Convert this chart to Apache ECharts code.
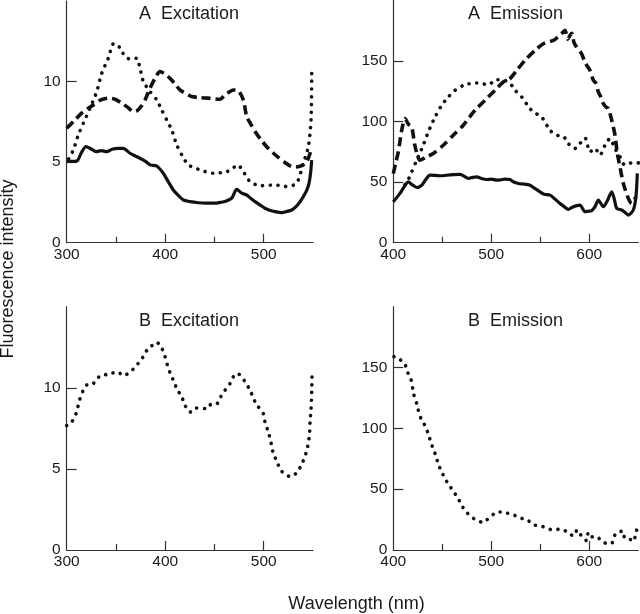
<!DOCTYPE html>
<html>
<head>
<meta charset="utf-8">
<script src="https://cdn.jsdelivr.net/npm/echarts@6/dist/echarts.min.js"></script>
<style>html,body{margin:0;padding:0;background:#fff}#c{width:640px;height:614px}</style>
</head>
<body>
<div id="c"></div>
<script>
// ---- tick labels ----
const excXLabels = [300, 400, 500];
const emXLabels = [400, 500, 600];
const excXMinor = [350, 450];
const emXMinor = [450, 550];
const excYLabels = [0, 5, 10];
const emYLabels = [0, 50, 100, 150];
const panelTitles = ['A  Excitation', 'A  Emission', 'B  Excitation', 'B  Emission'];

// ---- A Excitation ----
const aExcSolid = [[300,5.07],[306,5.05],[311,5.1],[315,5.6],[319.6,5.96],[324,5.85],[330,5.65],[335,5.72],[340.6,5.65],[346,5.8],[352.4,5.86],[357.5,5.86],[364.3,5.55],[369,5.4],[374.4,5.24],[380,5.05],[384.6,4.83],[391.4,4.76],[398,4.31],[403,3.8],[408.2,3.27],[413,2.95],[418.4,2.65],[425.2,2.55],[433.6,2.48],[441,2.45],[450.6,2.45],[456,2.5],[460.7,2.55],[467.5,2.76],[472.6,3.31],[477.7,3.07],[482.7,2.96],[487,2.75],[491.2,2.55],[496,2.35],[501.3,2.14],[506,2.02],[511.5,1.93],[518.3,1.87],[523,1.93],[528.4,2.03],[533,2.25],[536.9,2.55],[540.5,2.9],[543.7,3.27],[546,3.7],[547.5,4.3],[548.7,5.13]];
const aExcDash = [[300,7.1],[306.8,7.52],[315.2,8.04],[321,8.3],[327,8.55],[334,8.85],[342.2,8.97],[349,8.9],[355.8,8.66],[362,8.4],[367.6,8.14],[371.7,8.2],[376,8.5],[379.5,8.86],[384.6,9.59],[389.6,10.2],[394.7,10.62],[399,10.5],[404.9,10.2],[410,9.85],[415,9.48],[423.5,9.17],[426.9,9.07],[435,9.0],[443.8,8.97],[450,8.92],[455.6,8.9],[460.7,9.17],[465,9.35],[469.1,9.48],[474.2,9.43],[479.3,8.86],[482.7,7.83],[487,7.35],[491.2,6.9],[497,6.4],[503,5.96],[509,5.6],[514.8,5.3],[521,5.0],[528.4,4.72],[533,4.7],[538.6,4.78],[543.7,5.03],[547,5.55],[548.5,5.95]];
const aExcDot = [[302,5.2],[306.8,5.76],[311.8,6.69],[316.9,7.41],[323.7,8.35],[330.5,9.38],[335.5,10.5],[342.2,11.45],[348,12.38],[354.1,12.1],[359.2,11.55],[365,11.39],[371,11.45],[374.4,10.83],[377.8,10.0],[384.6,9.38],[391.4,8.86],[396.4,8.24],[401.5,7.62],[406.6,7.0],[411.7,6.07],[416.8,5.45],[423.5,4.83],[435.3,4.52],[448.8,4.31],[462.4,4.41],[468,4.6],[473.6,4.83],[479.3,4.41],[486.1,3.79],[496.2,3.54],[511.5,3.58],[525,3.48],[531,3.6],[535.1,3.89],[540.2,4.93],[545.3,5.96],[548,7.62],[548.7,10.52]];

// ---- A Emission ----
const aEmSolid = [[400,33.8],[406.8,40.7],[411,46],[415.3,50.3],[419,48],[423.9,45.6],[429,47.5],[433,52],[437.4,55.8],[447.6,55.3],[458,56],[468,56.4],[472,55],[476.5,53.1],[481,54],[485,54.4],[490,53],[495.3,52.2],[500,52.5],[505.5,51.6],[510,52],[514,52.5],[519,52.2],[522.4,50.3],[527.6,48.9],[533,48.5],[539.5,47.5],[544,45],[549.7,42],[554,40],[559.9,39.3],[565,36],[570.1,32.4],[574,30],[578.6,27.5],[582,29],[585.4,30.2],[590.5,31.1],[595.6,25.6],[599,26],[602.4,26.4],[606,30],[609.2,35.2],[614.3,29.7],[618,34],[622.9,42],[625.5,36],[628,28.3],[633.1,27],[636.5,25],[639.8,22.8],[644.9,27],[647.6,37.9],[649,57.2]];
const aEmDash = [[400,57],[402.5,66],[405.1,75],[408.6,92.9],[412,102.5],[415.3,98],[418.8,95.6],[422,80.5],[427.2,68.2],[434,70.9],[440.8,73.7],[451,80.5],[461.2,88.8],[471.4,97],[483.4,109.4],[493.6,117.6],[503.8,125.9],[512.2,132.7],[519,135.5],[525.9,142.3],[534.4,150.6],[544.6,158.8],[553.1,164.3],[563.3,167],[568,170],[571.8,172.6],[575.2,175.4],[578,168],[580.3,171.2],[582,173],[584.5,165],[587.1,161.5],[592.2,156],[595,150],[597.3,146.5],[600.7,142.3],[604.1,134.1],[606.5,132],[609.2,124.5],[612,120],[614.3,114.9],[617,112],[619.4,110.7],[622.9,101.1],[626.2,88.8],[628.6,73.7],[631.3,62.6],[634.7,49],[639.8,36.6],[643.2,32.4],[647.6,37.9]];
const aEmDot = [[412,48],[415,51.7],[418.8,58.5],[423.9,68.2],[430.6,80.5],[435.7,91.5],[442.6,103.8],[449.4,113.5],[456.1,120.3],[463,125.9],[473.2,130.5],[485.1,131.9],[496.9,130.5],[505.5,134.6],[514,134],[520.8,130],[524.2,125.9],[531,120.3],[539.5,110.7],[545,107],[551.4,103.8],[559.9,92.9],[566.7,88.8],[573.5,88],[578.6,81.9],[585.4,77.8],[590.5,81.9],[595.6,86.6],[600.7,75],[605.8,77.8],[610.9,72.3],[616,80.5],[621.1,86],[626.2,77.8],[631.3,70.9],[636.4,64],[643.2,65.9],[650,65.9]];

// ---- B Excitation ----
const bExcDot = [[300,7.67],[305,7.88],[309.4,8.4],[313.5,9.33],[316.9,9.85],[320.9,10.2],[327,10.27],[332.1,10.64],[337.2,10.83],[342.2,10.79],[347.3,10.93],[352.4,10.95],[357.5,10.74],[362.5,10.89],[367.6,11.16],[372.7,11.51],[377.8,11.93],[382.8,12.45],[387.9,12.65],[391.4,12.8],[396.4,12.45],[399.8,11.93],[402.2,11.4],[404.9,10.93],[408.2,10.47],[411.7,9.96],[416.8,9.44],[420.1,8.92],[425.2,8.5],[430.3,8.75],[435.3,8.75],[442.1,8.71],[447.2,9.02],[452.3,9.02],[456.3,9.44],[460.7,9.85],[465.8,10.27],[469.1,10.68],[473.2,10.89],[477.7,10.68],[481,10.37],[486.1,9.85],[491.2,9.13],[494.6,8.82],[499.6,8.4],[501.3,7.88],[504.7,7.26],[508.1,6.43],[509.8,5.91],[513.2,5.5],[516.6,4.98],[521.6,4.67],[527.4,4.52],[533.5,4.77],[538.6,5.29],[543.7,6.12],[546.3,7.05],[547,7.88],[548,8.71],[548.7,9.75],[549,10.78]];

// ---- B Emission ----
const bEmDot = [[400.7,159],[406.1,157],[411.9,152.7],[414.3,146.6],[417.8,141],[421.1,127.2],[423.9,120.3],[425.5,114.8],[428.3,107.9],[432.3,102.3],[435.7,95.4],[438.1,89],[440.8,83],[443.5,77.4],[445.9,70.5],[449.4,64.2],[452.8,58.7],[457.1,53.1],[461.2,48.4],[466.3,42.1],[469.8,36.5],[474.9,31],[480,27.1],[485.1,24.3],[491.8,22.7],[495.3,24.7],[498.7,26.8],[503.8,30.4],[508.9,31.2],[515.7,30.4],[522.4,29],[529.3,26.3],[536.1,25.2],[542.9,20.7],[549.7,20],[556.5,18],[563.3,16.3],[570.1,17.2],[576.9,15.2],[583.7,11.6],[587.8,16.6],[592.2,11.3],[597.3,7.7],[599,14.4],[602.4,10.8],[607.5,11.3],[612.6,6.9],[617.7,5.5],[622.9,5.5],[624.6,8.8],[626.2,12.4],[631.3,13.8],[633,16],[636.4,9.7],[641.5,8.8],[644.9,6.9],[647.6,13.8],[649,18.8]];

const FONT = 'Liberation Sans, Arial, Helvetica, sans-serif';
const TXT = '#1a1a1a';
const AX = '#333';

const grids = [
  {left: 66.7, top: 1, width: 246.3, height: 241.7},
  {left: 393.3, top: 0.5, width: 245, height: 242.2},
  {left: 66.7, top: 306.7, width: 246.3, height: 243.3},
  {left: 393.3, top: 306.7, width: 245, height: 243.3}
];
const xRanges = [[300,550],[400,650],[300,550],[400,650]];
const yMax = [15, 200, 15, 200];
const isExc = [true, false, true, false];

const xAxes = [], yAxes = [];
for (let i = 0; i < 4; i++) {
  xAxes.push({
    type: 'value', gridIndex: i, position: 'bottom', min: xRanges[i][0], max: xRanges[i][1],
    splitLine: {show: false},
    axisLine: {show: true, lineStyle: {color: AX, width: 1.2}},
    axisTick: {show: true, inside: true, length: 9, lineStyle: {color: AX, width: 1.2},
      customValues: isExc[i] ? [400, 500] : [500, 600]},
    axisLabel: {show: true, margin: 4, color: TXT, fontSize: 15.5, fontFamily: FONT,
      customValues: isExc[i] ? excXLabels : emXLabels}
  });
}
for (let i = 0; i < 4; i++) {
  xAxes.push({
    type: 'value', gridIndex: i, position: 'bottom', min: xRanges[i][0], max: xRanges[i][1],
    splitLine: {show: false},
    axisLine: {show: false},
    axisTick: {show: true, inside: true, length: 6, lineStyle: {color: AX, width: 1.2},
      customValues: isExc[i] ? excXMinor : emXMinor},
    axisLabel: {show: false}
  });
}
for (let i = 0; i < 4; i++) {
  yAxes.push({
    type: 'value', gridIndex: i, position: 'left', min: 0, max: yMax[i],
    splitLine: {show: false},
    axisLine: {show: true, lineStyle: {color: AX, width: 1.2}},
    axisTick: {show: true, inside: true, length: 10, lineStyle: {color: AX, width: 1.2},
      customValues: isExc[i] ? [5, 10] : [50, 100, 150]},
    axisLabel: {show: true, margin: 6, color: TXT, fontSize: 15.5, fontFamily: FONT,
      customValues: isExc[i] ? excYLabels : emYLabels}
  });
}

const solidStyle = {color: '#111', width: 3.2, type: 'solid', join: 'round'};
const dashStyle = {color: '#111', width: 3.6, type: [9, 5], cap: 'butt', join: 'round'};
const dotStyle = {color: '#111', width: 3.6, type: [0.1, 7.6], cap: 'round', join: 'round'};

function mk(data, idx, style) {
  return {type: 'line', data: data, xAxisIndex: idx, yAxisIndex: idx, showSymbol: false,
    symbol: 'none', smooth: 0.25, lineStyle: style, silent: true, animation: false, clip: true};
}

const series = [
  mk(aExcSolid, 0, solidStyle), mk(aExcDash, 0, dashStyle), mk(aExcDot, 0, dotStyle),
  mk(aEmSolid, 1, solidStyle), mk(aEmDash, 1, dashStyle), mk(aEmDot, 1, dotStyle),
  mk(bExcDot, 2, dotStyle),
  mk(bEmDot, 3, dotStyle)
];

const titlePos = [[189, 14], [515.5, 14], [189, 321], [515.5, 321]];
const graphics = titlePos.map((p, i) => ({
  type: 'text', x: p[0], y: p[1],
  style: {text: panelTitles[i], fill: TXT, font: '18px ' + FONT, textAlign: 'center', textVerticalAlign: 'middle'}
}));
graphics.push({
  type: 'text', x: 8, y: 269, rotation: Math.PI / 2,
  style: {text: 'Fluorescence intensity', fill: TXT, font: '18px ' + FONT, textAlign: 'center', textVerticalAlign: 'middle'}
});
graphics.push({
  type: 'text', x: 356.5, y: 604,
  style: {text: 'Wavelength (nm)', fill: TXT, font: '18px ' + FONT, textAlign: 'center', textVerticalAlign: 'middle'}
});

const chart = echarts.init(document.getElementById('c'), null, {renderer: 'canvas'});
chart.setOption({
  animation: false,
  backgroundColor: '#fff',
  grid: grids,
  xAxis: xAxes,
  yAxis: yAxes,
  series: series,
  graphic: graphics
});
</script>
</body>
</html>
